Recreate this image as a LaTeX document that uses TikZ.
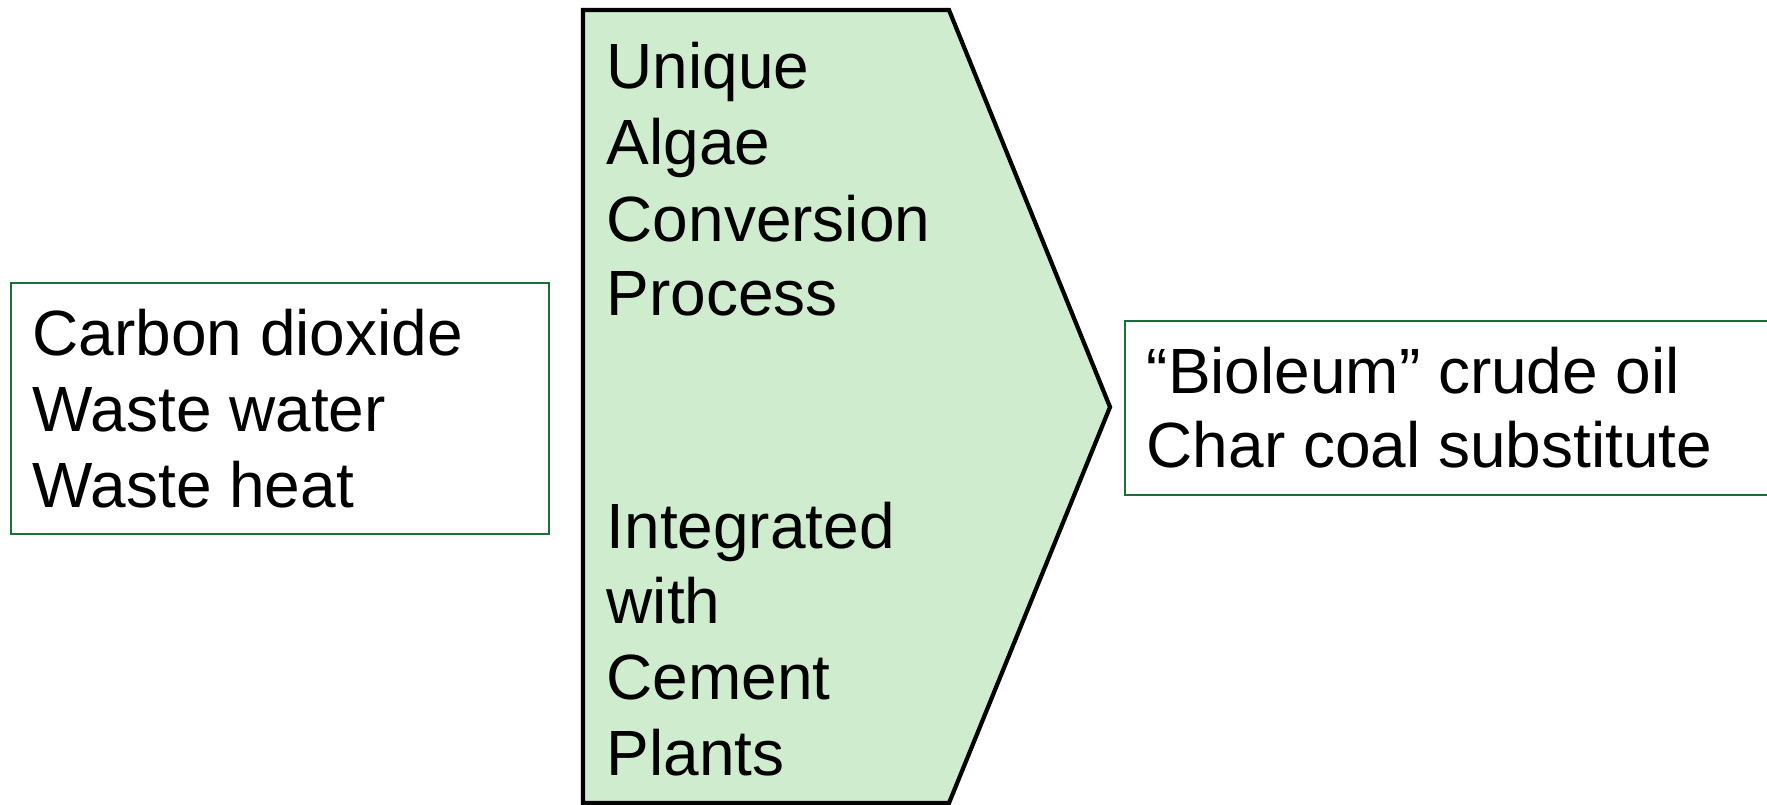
\documentclass[tikz,border=0pt]{standalone}
\usepackage{fontspec}
\setmainfont{Liberation Sans}
\usepackage{tikz}
\usetikzlibrary{arrows,shapes}
\definecolor{boxgreen}{RGB}{30,110,60}
\definecolor{procfill}{RGB}{208,236,206}
\tikzstyle{flowbox}=[draw=boxgreen,line width=0.6pt,fill=white,inner sep=0pt]
\tikzstyle{linetext}=[anchor=base west,inner sep=0pt,font=\fontsize{18.2pt}{21.7pt}\selectfont]
\tikzstyle{procshape} = [draw=black,line width=1.2pt,fill=procfill,line join=miter]

\begin{document}
\begin{tikzpicture}
    \useasboundingbox (0,0) rectangle (17.67,-8.04);
    % Process arrow in the middle
    \coordinate (ptl) at (5.83,-0.10);
    \coordinate (ptr) at (9.49,-0.10);
    \coordinate (ptip) at (11.10,-4.07);
    \coordinate (pbr) at (9.49,-8.03);
    \coordinate (pbl) at (5.83,-8.03);
    \path[procshape] (ptl) -- (ptr) -- (ptip) -- (pbr) -- (pbl) -- cycle;
    % Input and output boxes
    \node[flowbox,anchor=north west,minimum width=5.38cm,minimum height=2.51cm] (inputs) at (0.10,-2.82) {};
    \node[flowbox,anchor=north west,minimum width=6.60cm,minimum height=1.74cm] (outputs) at (11.24,-3.20) {};
    % Then the text lines
    \foreach \y/\txt [count=\i] in {3.55/Carbon dioxide, 4.31/Waste water, 5.07/Waste heat}
        \node[linetext] (in\i) at (0.32,-\y) {\txt};
    \foreach \y/\txt [count=\i] in {0.88/Unique, 1.645/Algae, 2.41/Conversion, 3.155/Process,
        5.48/Integrated, 6.23/with, 6.99/Cement, 7.75/Plants}
        \node[linetext] (proc\i) at (6.06,-\y) {\txt};
    \foreach \y/\txt [count=\i] in {3.93/“Bioleum” crude oil, 4.67/Char coal substitute}
        \node[linetext] (out\i) at (11.46,-\y) {\txt};
\end{tikzpicture}
\end{document}
